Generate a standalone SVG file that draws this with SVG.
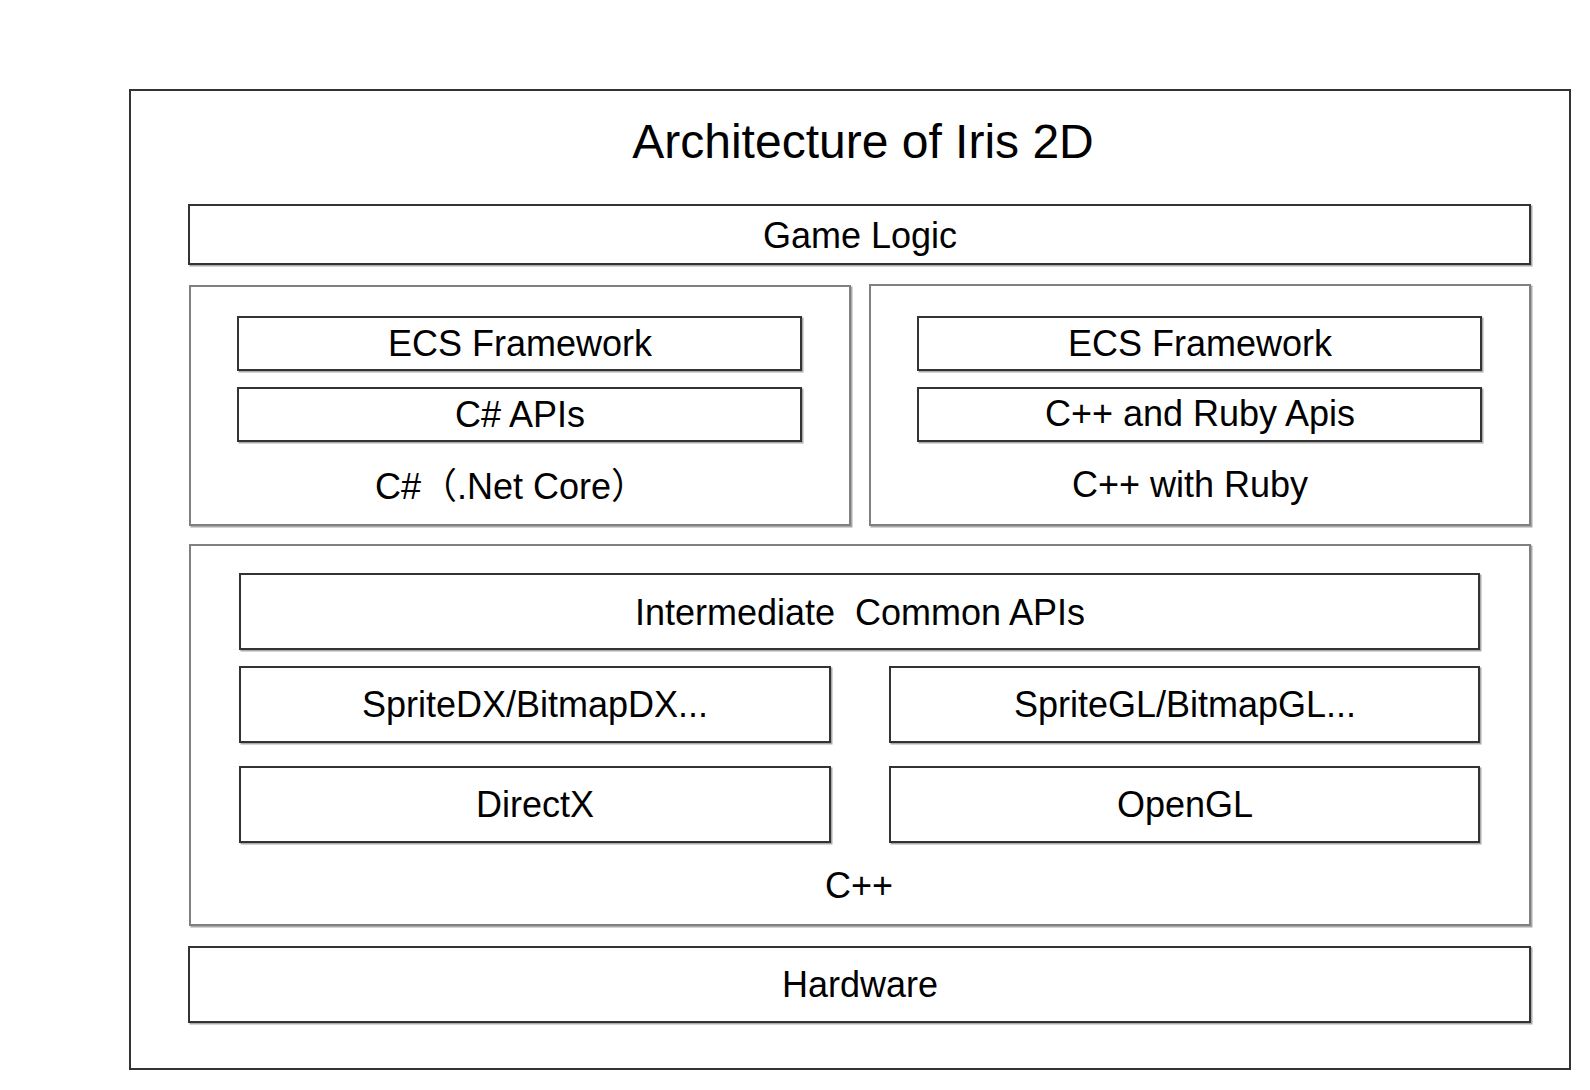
<svg xmlns="http://www.w3.org/2000/svg" width="1590" height="1090" viewBox="0 0 1590 1090">
<style>
  text { font-family: "Liberation Sans", Arial, "Noto Sans CJK SC", sans-serif; fill: #000; text-anchor: middle; }
  .t { font-size: 36px; }
  .title { font-size: 48px; }
  .box { fill: #fff; stroke: #333; stroke-width: 2; }
  .grp { fill: #fff; stroke: #808080; stroke-width: 2; }
  .sh { fill: none; stroke: #aaa; stroke-width: 2; }
</style>
<rect width="1590" height="1090" fill="#fff"/>
<g id="outer">
  <rect class="box" x="130" y="90" width="1440" height="979"/>
  <text class="title" x="863" y="158">Architecture of Iris 2D</text>
</g>
<g id="game-logic">
  <rect class="sh" x="190.5" y="206.5" width="1341" height="59"/>
  <rect class="box" x="189" y="205" width="1341" height="59"/>
  <text class="t" x="860" y="248">Game Logic</text>
</g>
<g id="csharp-group">
  <rect class="sh" x="191.5" y="287.5" width="660" height="239"/>
  <rect class="grp" x="190" y="286" width="660" height="239"/>
  <text class="t" x="375" y="499" style="text-anchor:start">C#（.Net Core）</text>
</g>
<g id="csharp-ecs">
  <rect class="sh" x="239.5" y="318.5" width="563" height="53"/>
  <rect class="box" x="238" y="317" width="563" height="53"/>
  <text class="t" x="520" y="356">ECS Framework</text>
</g>
<g id="csharp-apis">
  <rect class="sh" x="239.5" y="389.5" width="563" height="53"/>
  <rect class="box" x="238" y="388" width="563" height="53"/>
  <text class="t" x="520" y="427">C# APIs</text>
</g>
<g id="cpp-ruby-group">
  <rect class="sh" x="871.5" y="286.5" width="660" height="240"/>
  <rect class="grp" x="870" y="285" width="660" height="240"/>
  <text class="t" x="1190" y="497">C++ with Ruby</text>
</g>
<g id="ruby-ecs">
  <rect class="sh" x="919.5" y="318.5" width="563" height="53"/>
  <rect class="box" x="918" y="317" width="563" height="53"/>
  <text class="t" x="1200" y="356">ECS Framework</text>
</g>
<g id="ruby-apis">
  <rect class="sh" x="919.5" y="389.5" width="563" height="53"/>
  <rect class="box" x="918" y="388" width="563" height="53"/>
  <text class="t" x="1200" y="426">C++ and Ruby Apis</text>
</g>
<g id="cpp-group">
  <rect class="sh" x="191.5" y="546.5" width="1340" height="380"/>
  <rect class="grp" x="190" y="545" width="1340" height="380"/>
  <text class="t" x="859" y="898">C++</text>
</g>
<g id="intermediate">
  <rect class="sh" x="241.5" y="575.5" width="1239" height="75"/>
  <rect class="box" x="240" y="574" width="1239" height="75"/>
  <text class="t" x="860" y="625" xml:space="preserve">Intermediate  Common APIs</text>
</g>
<g id="sprite-dx">
  <rect class="sh" x="241.5" y="668.5" width="590" height="75"/>
  <rect class="box" x="240" y="667" width="590" height="75"/>
  <text class="t" x="535" y="717">SpriteDX/BitmapDX...</text>
</g>
<g id="sprite-gl">
  <rect class="sh" x="891.5" y="668.5" width="589" height="75"/>
  <rect class="box" x="890" y="667" width="589" height="75"/>
  <text class="t" x="1185" y="717">SpriteGL/BitmapGL...</text>
</g>
<g id="directx">
  <rect class="sh" x="241.5" y="768.5" width="590" height="75"/>
  <rect class="box" x="240" y="767" width="590" height="75"/>
  <text class="t" x="535" y="817">DirectX</text>
</g>
<g id="opengl">
  <rect class="sh" x="891.5" y="768.5" width="589" height="75"/>
  <rect class="box" x="890" y="767" width="589" height="75"/>
  <text class="t" x="1185" y="817">OpenGL</text>
</g>
<g id="hardware">
  <rect class="sh" x="190.5" y="948.5" width="1341" height="75"/>
  <rect class="box" x="189" y="947" width="1341" height="75"/>
  <text class="t" x="860" y="997">Hardware</text>
</g>
<g id="connectors"></g>
</svg>
